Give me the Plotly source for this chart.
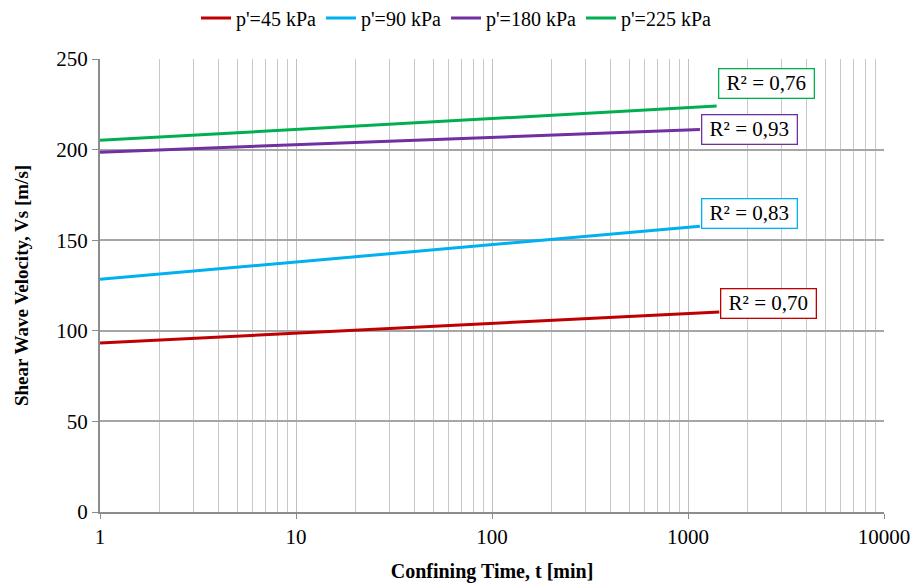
import math
import plotly.graph_objects as go

# Data (log trendlines: start and end points)
names = ["p'=45 kPa", "p'=90 kPa", "p'=180 kPa", "p'=225 kPa"]
colors = ["#c00000", "#00b0f0", "#7030a0", "#00b050"]
x_start = [1, 1, 1, 1]
x_end = [1445, 1150, 1150, 1400]
vs_start = [93.3, 128.4, 198.6, 205.1]
vs_end = [110.4, 157.7, 211.1, 224.0]
r2_labels = ["R² = 0,70", "R² = 0,83", "R² = 0,93", "R² = 0,76"]
label_yshift = [8, 13, 0, 23]

x_ticks = [1, 10, 100, 1000, 10000]
y_ticks = [0, 50, 100, 150, 200, 250]
minor_ticks = [m * 10 ** k for k in range(4) for m in range(2, 10)]

FONT = "Liberation Serif"

fig = go.Figure()
for n, c, xs, xe, ys, ye in zip(names, colors, x_start, x_end, vs_start, vs_end):
    fig.add_trace(go.Scatter(x=[xs, xe], y=[ys, ye], mode="lines", name=n,
                             line=dict(color=c, width=3)))

for c, xe, ye, lab, sh in zip(colors, x_end, vs_end, r2_labels, label_yshift):
    fig.add_annotation(x=math.log10(xe), y=ye, xref="x", yref="y",
                       text=lab, showarrow=False, xanchor="left", yanchor="middle",
                       xshift=1, yshift=sh, width=90, align="center",
                       font=dict(family=FONT, size=21, color="black"),
                       bgcolor="white", bordercolor=c, borderwidth=1.3, borderpad=2)

fig.update_layout(
    width=913, height=583,
    margin=dict(l=100, r=29, t=59, b=71),
    paper_bgcolor="white", plot_bgcolor="white",
    font=dict(family=FONT, size=20, color="black"),
    showlegend=True,
    legend=dict(orientation="h", x=0.5, xanchor="center", xref="container",
                y=1 - 18 / 583, yanchor="middle", yref="container",
                font=dict(size=20, family=FONT, color="black"),
                itemwidth=30, tracegroupgap=0, itemclick=False),
    xaxis=dict(type="log", range=[0, 4], tickvals=x_ticks,
               ticktext=[str(v) for v in x_ticks], automargin=False,
               showgrid=True, gridcolor="#bfbfbf", gridwidth=1,
               minor=dict(tickvals=minor_ticks, showgrid=True, gridcolor="#c8c8c8",
                          gridwidth=1, ticks=""),
               showline=True, linecolor="#8c8c8c", linewidth=2,
               ticks="outside", ticklen=5, tickcolor="#8c8c8c",
               zeroline=False, tickfont=dict(size=21, family=FONT, color="black"),
               title=dict(text="<b>Confining Time, t [min]</b>",
                          font=dict(size=20, family=FONT, color="black"), standoff=20)),
    yaxis=dict(range=[0, 250], tickvals=y_ticks, automargin=False,
               showgrid=True, gridcolor="#a6a6a6", gridwidth=1.5,
               showline=True, linecolor="#8c8c8c", linewidth=2,
               ticks="outside", ticklen=6, tickcolor="#8c8c8c",
               zeroline=False, tickfont=dict(size=21, family=FONT, color="black"),
               title=dict(text="<b>Shear Wave Velocity, Vs [m/s]</b>",
                          font=dict(size=19, family=FONT, color="black"), standoff=23)),
)

fig.write_html("out.html")
